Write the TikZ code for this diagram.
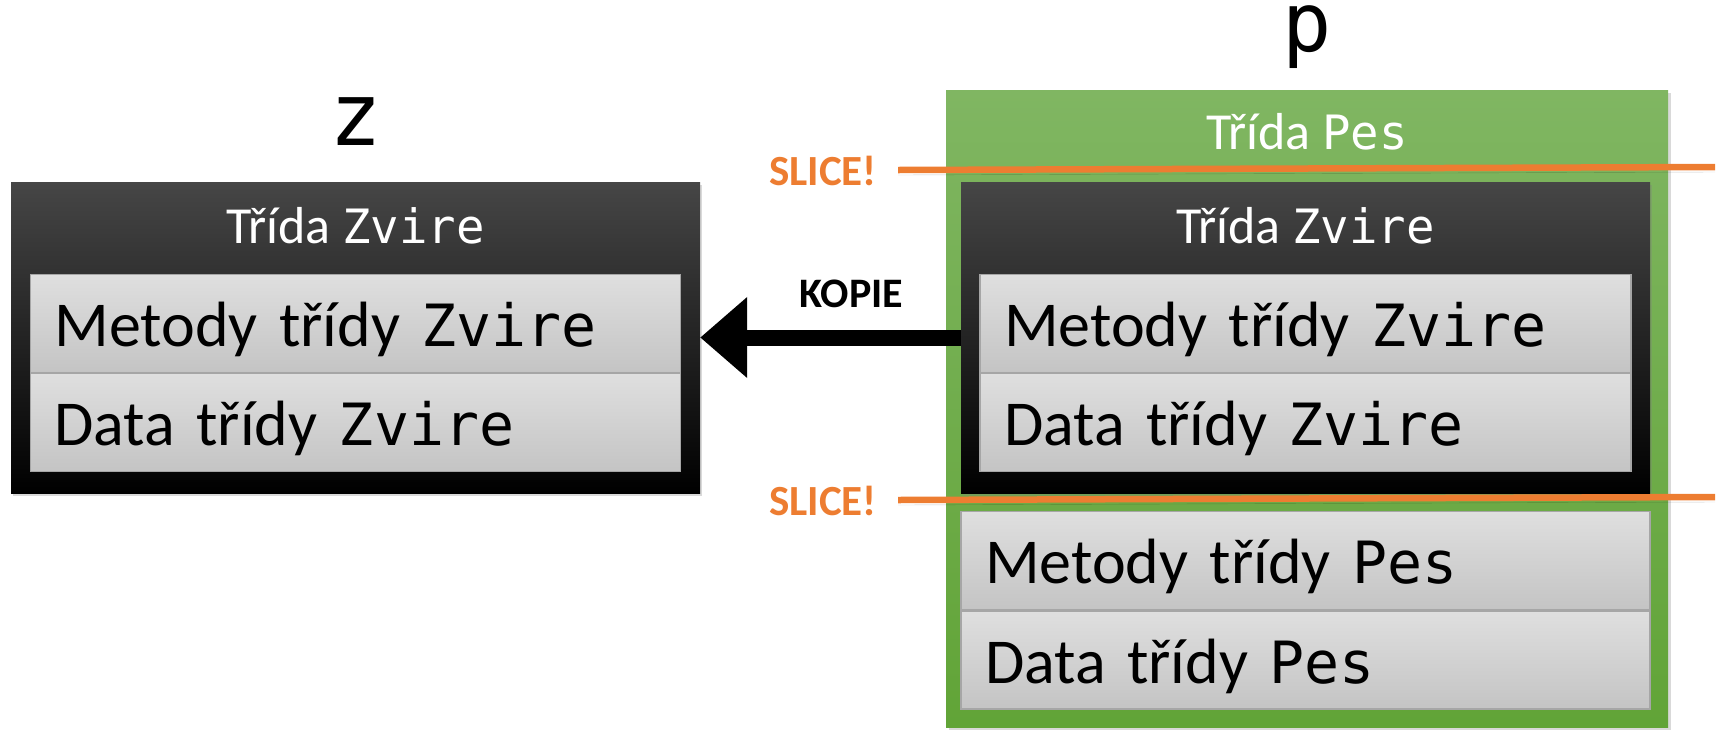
\documentclass[tikz,border=0pt]{standalone}
\usepackage{fontspec}
\setmainfont{Carlito}
\newfontfamily\clsfont{DejaVu Sans Mono}[Scale=0.91]
\usepackage{tikz}
\usetikzlibrary{arrows.meta, positioning, shadows}
\definecolor{boxtop}{RGB}{70,70,70}
\definecolor{rowtop}{RGB}{223,223,223}
\definecolor{rowbot}{RGB}{196,196,196}
\definecolor{rowline}{RGB}{166,166,166}
\definecolor{greentop}{RGB}{128,182,98}
\definecolor{greenbot}{RGB}{97,164,55}
\definecolor{slicecol}{HTML}{ED7D31}

\begin{document}
\begin{tikzpicture}[x=1pt, y=-1pt, node distance=0pt,
	classbox/.style={minimum width=689pt, minimum height=311pt, inner sep=0pt,
		top color=boxtop, middle color=black, bottom color=black,
		drop shadow={opacity=0.3, shadow xshift=2pt, shadow yshift=-3pt}},
	row/.style={text width=#1, align=left, inner xsep=24pt, inner ysep=0pt,
		minimum height=98pt, text height=54pt, text depth=8pt,
		draw=rowline, line width=1.2pt, top color=rowtop, bottom color=rowbot,
		font=\fontsize{64}{70}\selectfont},
	title/.style={anchor=base, inner sep=0pt, text=white,
		font=\fontsize{52}{58}\selectfont},
	varname/.style={inner sep=0pt, text height=48pt, text depth=0pt,
		font=\clsfont\fontsize{96}{100}\selectfont},
	slicelbl/.style={anchor=base, inner sep=0pt, text=slicecol,
		font=\bfseries\fontsize{43}{48}\selectfont},
	cut/.style={draw=slicecol, line width=6.5pt,
		preaction={draw=black, opacity=0.2, transform canvas={yshift=-5pt}}},
	copy/.style={line width=16pt, -{Triangle[length=47pt, width=78pt]}}]

	\useasboundingbox (0,0) rectangle (1721,729);

	% objekt z
	\node [classbox] (zbox) at (355.5,337.5) {};
	\node [title] (ztitle) at ([yshift=-62pt]zbox.north) {Třída {\clsfont Zvire}};
	\node [row=602pt, below=92pt of zbox.north] (zmeth) {Metody třídy {\clsfont Zvire}};
	\node [row=602pt, below=0pt of zmeth] (zdata) {Data třídy {\clsfont Zvire}};
	\node [varname, above=36pt of zbox] (zname) {z};

	% objekt p
	\node [minimum width=722pt, minimum height=637pt, inner sep=0pt,
		top color=greentop, bottom color=greenbot,
		drop shadow={opacity=0.3, shadow xshift=3pt, shadow yshift=-3pt}] (pbox) at (1307,408.5) {};
	\node [title] (ptitle) at ([yshift=-60pt]pbox.north) {Třída {\clsfont Pes}};
	\node [varname, text height=44pt, font=\clsfont\fontsize{90}{96}\selectfont,
		above=38pt of pbox] (pname) {p};
	\node [classbox] (pzbox) at (1305.5,337.5) {};
	\node [title] (pztitle) at ([yshift=-62pt]pzbox.north) {Třída {\clsfont Zvire}};
	\node [row=603pt, below=92pt of pzbox.north] (pzmeth) {Metody třídy {\clsfont Zvire}};
	\node [row=603pt, below=0pt of pzmeth] (pzdata) {Data třídy {\clsfont Zvire}};
	\node [row=641pt, below=18pt of pzbox.south] (pmeth) {Metody třídy {\clsfont Pes}};
	\node [row=641pt, below=0pt of pmeth] (pdata) {Data třídy {\clsfont Pes}};

	% kopie
	\draw [copy] (pzbox.west) -- node [pos=0.42, anchor=base, yshift=30pt,
		font=\bfseries\fontsize{42}{46}\selectfont] (kopie) {KOPIE} (zbox.east);

	% rezy
	\node [slicelbl] (slice1) at (823,185) {SLICE!};
	\node [slicelbl] (slice2) at (823,515) {SLICE!};
	\coordinate (cut1a) at (898,170);
	\coordinate (cut1b) at (1715,167);
	\coordinate (cut2a) at (898,500);
	\coordinate (cut2b) at (1715,497);
	\draw [cut] (cut1a) -- (cut1b);
	\draw [cut] (cut2a) -- (cut2b);
\end{tikzpicture}
\end{document}
